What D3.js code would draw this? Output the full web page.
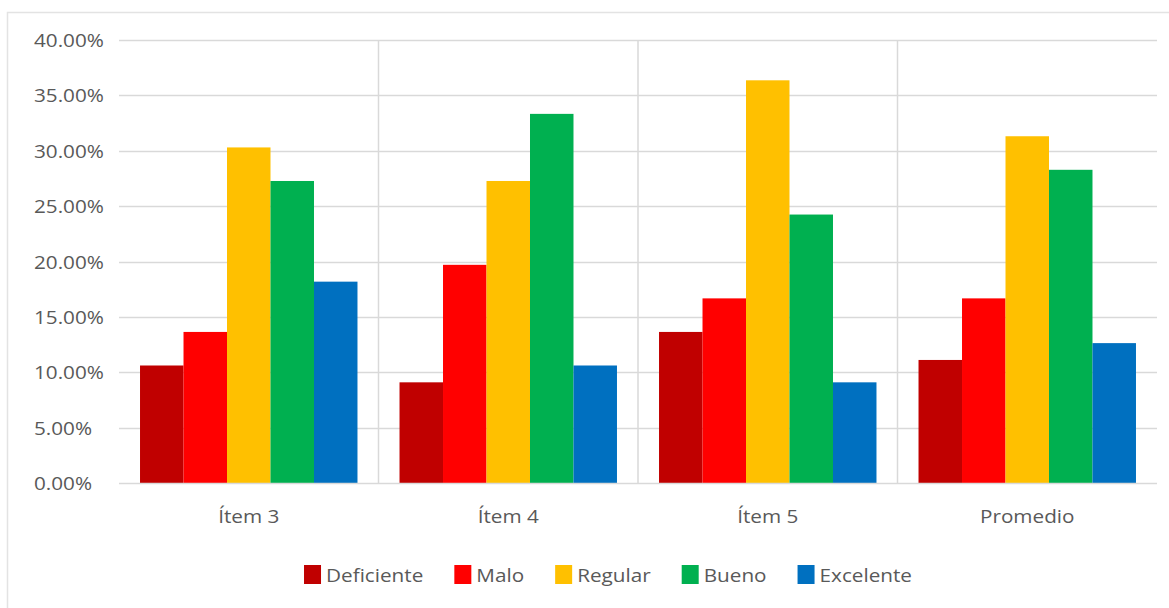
<!DOCTYPE html>
<html><head><meta charset="utf-8">
<script src="https://cdn.jsdelivr.net/npm/d3@7"></script>
<style>
html,body{margin:0;padding:0;background:#fff;}
svg text{font-family:"Open Sans",sans-serif;fill:#595959;}
</style></head>
<body>
<svg id="chart" width="1169" height="608"></svg>
<script>
const categories = ["Ítem 3", "Ítem 4", "Ítem 5", "Promedio"];
const seriesNames = ["Deficiente", "Malo", "Regular", "Bueno", "Excelente"];
const deficiente = [10.61, 9.09, 13.64, 11.11];
const malo = [13.64, 19.70, 16.67, 16.67];
const regular = [30.30, 27.27, 36.36, 31.31];
const bueno = [27.27, 33.33, 24.24, 28.28];
const excelente = [18.18, 10.61, 9.09, 12.63];
const yTicks = [0, 5, 10, 15, 20, 25, 30, 35, 40];
const colors = ["#C00000", "#FF0000", "#FFC000", "#00B050", "#0070C0"];

const seriesValues = [deficiente, malo, regular, bueno, excelente];

const svg = d3.select("#chart");
const W = 1169, H = 608;
const plot = {left: 119, right: 1157, top: 40, bottom: 483};
const SX = 1.12, FS = 18.5;

// chart border
svg.append("rect").attr("x", 7.5).attr("y", 12.5).attr("width", W + 10).attr("height", H + 10)
  .attr("fill", "none").attr("stroke", "#e3e3e3").attr("stroke-width", 1.5);

const y = d3.scaleLinear().domain([0, 40]).range([plot.bottom, plot.top]);
const x0 = d3.scaleBand().domain(categories).range([plot.left, plot.right]).padding(0);
const pad = x0.bandwidth() * 0.081;
const x1 = d3.scaleBand().domain(seriesNames).range([pad, x0.bandwidth() - pad]).padding(0);

// horizontal gridlines
svg.append("g").selectAll("line").data(yTicks.filter(d => d > 0)).join("line")
  .attr("x1", plot.left).attr("x2", plot.right)
  .attr("y1", d => Math.round(y(d)) + 0.5).attr("y2", d => Math.round(y(d)) + 0.5)
  .attr("stroke", "#d9d9d9").attr("stroke-width", 1.5);

// vertical category separators
svg.append("g").selectAll("line").data(categories.slice(1)).join("line")
  .attr("x1", d => x0(d)).attr("x2", d => x0(d))
  .attr("y1", plot.top).attr("y2", plot.bottom)
  .attr("stroke", "#d9d9d9").attr("stroke-width", 1.5);

// bars
const gCat = svg.append("g").selectAll("g").data(categories).join("g")
  .attr("transform", d => `translate(${x0(d)},0)`);
gCat.selectAll("rect").data((c, ci) => seriesNames.map((s, si) => ({s, si, v: seriesValues[si][ci]})))
  .join("rect")
  .attr("x", d => x1(d.s)).attr("width", x1.bandwidth())
  .attr("y", d => y(d.v)).attr("height", d => y(0) - y(d.v))
  .attr("fill", d => colors[d.si]);

// x axis line
svg.append("line").attr("x1", plot.left).attr("x2", plot.right)
  .attr("y1", plot.bottom + 0.5).attr("y2", plot.bottom + 0.5)
  .attr("stroke", "#d9d9d9").attr("stroke-width", 1.5);

// y tick labels (left aligned)
svg.append("g").selectAll("text").data(yTicks).join("text")
  .attr("transform", d => `translate(34,${y(d) + 7}) scale(${SX},1)`)
  .attr("font-size", FS)
  .text(d => d.toFixed(2) + "%");

// category labels
svg.append("g").selectAll("text").data(categories).join("text")
  .attr("transform", d => `translate(${x0(d) + x0.bandwidth() / 2},523) scale(${SX},1)`)
  .attr("text-anchor", "middle").attr("font-size", FS)
  .text(d => d);

// legend
const legend = svg.append("g");
const items = legend.selectAll("g").data(seriesNames).join("g");
items.append("rect").attr("width", 17).attr("height", 19).attr("y", -10)
  .attr("fill", (d, i) => colors[i]);
items.append("text").attr("font-size", FS).attr("transform", `translate(22,6.5) scale(${SX},1)`)
  .text(d => d);
let xpos = 0;
items.each(function(d) {
  const tw = d3.select(this).select("text").node().getComputedTextLength() * SX;
  d3.select(this).attr("transform", `translate(${xpos},0)`);
  xpos += 22 + tw + 31;
});
const total = xpos - 31;
legend.attr("transform", `translate(${608 - total / 2},575)`);
</script>
</body></html>
